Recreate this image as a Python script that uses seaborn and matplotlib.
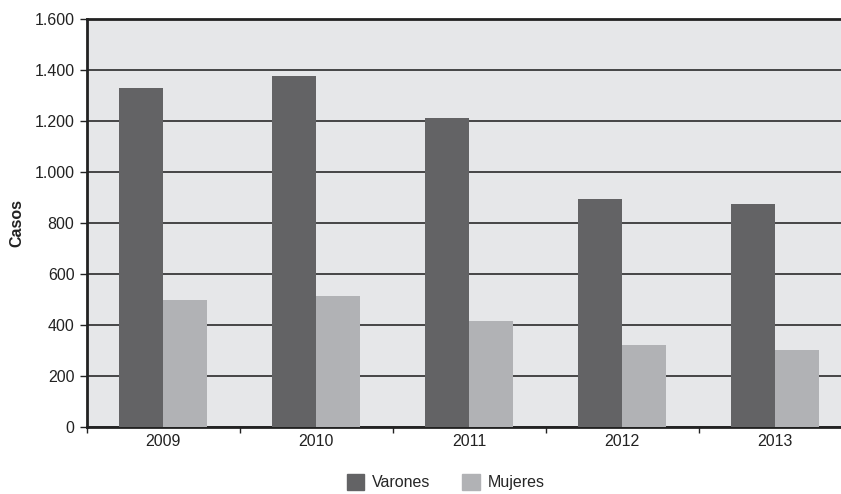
import matplotlib
matplotlib.use("Agg")
import matplotlib.pyplot as plt
from matplotlib.ticker import FuncFormatter, FixedLocator
import seaborn as sns
import pandas as pd
import numpy as np

# ── data ────────────────────────────────────────────────────
years = ["2009", "2010", "2011", "2012", "2013"]
varones = [1330, 1375, 1212, 894, 875]
mujeres = [498, 514, 416, 322, 302]
series = ["Varones", "Mujeres"]
colors = ["#636365", "#b1b2b5"]

df = pd.DataFrame({
    "Año": years * 2,
    "Casos": varones + mujeres,
    "Sexo": [series[0]] * len(years) + [series[1]] * len(years),
})

sns.set_style("white")
plt.rcParams["font.family"] = ["Liberation Sans", "DejaVu Sans"]

fig = plt.figure(figsize=(8.41, 4.94), dpi=100)
ax = fig.add_axes([0.1034, 0.1356, 0.8966, 0.826])
ax.set_facecolor("#e6e7e9")

sns.barplot(data=df, x="Año", y="Casos", hue="Sexo", palette=colors,
            width=0.575, saturation=1, linewidth=0, ax=ax, legend=False, zorder=3)

ax.set_ylim(0, 1600)
ax.set_xlim(-0.5, 4.43)
ax.set_yticks(np.arange(0, 1601, 200))
ax.yaxis.set_major_formatter(FuncFormatter(lambda v, p: f"{int(v):,}".replace(",", ".")))
ax.grid(axis="y", color="#1a1a1a", linewidth=1.1, zorder=1)
ax.set_axisbelow(True)

# ticks between categories, labels at centres
ax.xaxis.set_minor_locator(FixedLocator(np.arange(-0.5, 4.6, 1)))
ax.tick_params(axis="x", which="minor", bottom=True, length=4, width=1,
               direction="out", color="#222222")
ax.tick_params(axis="x", which="major", bottom=True, length=0, labelsize=11.5,
               pad=5, labelcolor="#222222")
ax.tick_params(axis="y", left=True, length=5, width=1, direction="out",
               color="#222222", labelsize=11.5, pad=4, labelcolor="#222222")

for s in ["left", "bottom", "top"]:
    ax.spines[s].set_color("#222222")
    ax.spines[s].set_linewidth(2)
ax.spines["right"].set_visible(False)

ax.set_xlabel("")
ax.set_ylabel("Casos", fontsize=11.5, fontweight="bold", color="#222222")
ax.yaxis.set_label_coords(-0.083, 0.5)

handles = [plt.Rectangle((0, 0), 1, 1, color=c) for c in colors]
fig.legend(handles, series, loc="lower center", bbox_to_anchor=(0.53, -0.022),
           ncol=2, frameon=False, fontsize=11.5, handlelength=1.1, handleheight=1.1,
           columnspacing=2.0, handletextpad=0.5)

fig.savefig("out.png", dpi=100)
